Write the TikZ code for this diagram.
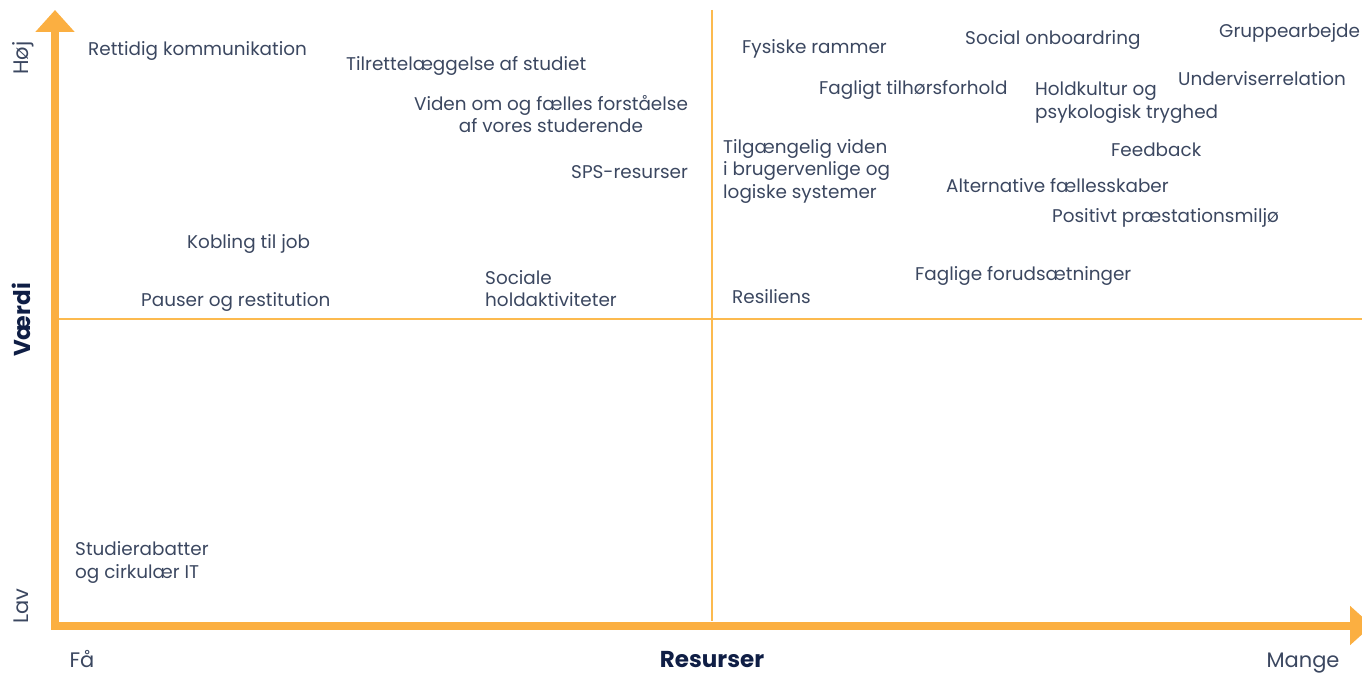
\documentclass[tikz,border=0pt]{standalone}
\usepackage{fontspec}
\setmainfont{Poppins}
\usetikzlibrary{arrows.meta,positioning}
\definecolor{txtgray}{HTML}{3B4760}
\definecolor{navy}{HTML}{0F1E45}
\definecolor{axisorange}{HTML}{FBAF41}
\definecolor{gridorange}{HTML}{FCBA4F}

\begin{document}
\begin{tikzpicture}
   [x=1pt,y=-1pt,
   every node/.style={inner sep=0pt,text=txtgray,
     font=\fontsize{18.4}{22.5}\selectfont},
   item/.style={anchor=base west},
   block/.style={anchor=west,align=left},
   axisname/.style={anchor=base,text=navy,font=\fontsize{23}{26}\selectfont\bfseries},
   axisend/.style={anchor=base,font=\fontsize{21}{24}\selectfont},
   axis/.style={line width=8pt,draw=axisorange,line join=miter,
     {Triangle[width=38pt,length=22pt]}-{Triangle[width=38pt,length=22pt]}},
   midline/.style={line width=1.2pt,draw=gridorange}]
   \useasboundingbox (0,0) rectangle (1362,676);
   % axes and quadrant lines
   \coordinate (ytop) at (55,10);
   \coordinate (origin) at (55,625.5);
   \coordinate (xend) at (1372,625.5);
   \coordinate (midtop) at (712,10);
   \coordinate (midbot) at (712,621);
   \coordinate (midleft) at (59,319);
   \coordinate (midright) at (1362,319);
   \draw[midline] (midtop) -- (midbot);
   \draw[midline] (midleft) -- (midright);
   \draw[axis] (ytop) -- (origin) -- (xend);
   % axis labels
   \node[axisname,rotate=90] (vaerdi) at (30,320) {Værdi};
   \node[axisend,rotate=90] (hoej) at (28,58) {Høj};
   \node[axisend,rotate=90] (lav) at (28,606) {Lav};
   \node[axisname] (resurser) at (712,667) {Resurser};
   \node[axisend] (faa) at (82,667) {Få};
   \node[axisend] (mange) at (1303,667) {Mange};
   % high value, few resources
   \node[item] (komm) at (88,56) {Rettidig kommunikation};
   \node[item] (tilret) at (346,71) {Tilrettelæggelse af studiet};
   \node[align=center] (viden) at (551,114) {Viden om og fælles forståelse\\af vores studerende};
   \node[item] (sps) at (571,179) {SPS-resurser};
   \node[item] (job) at (187,249) {Kobling til job};
   \node[item] (pauser) at (141,306) {Pauser og restitution};
   \node[block] (holdakt) at (485,288.5) {Sociale\\holdaktiviteter};
   % high value, many resources
   \node[item] (fysisk) at (742,54) {Fysiske rammer};
   \node[item] (onboard) at (965,45) {Social onboardring};
   \node[item] (gruppe) at (1219,38) {Gruppearbejde};
   \node[item] (fagtil) at (819,95) {Fagligt tilhørsforhold};
   \node[item] (undrel) at (1178,86) {Underviserrelation};
   \node[block] (holdkult) at (1035,102.5) {Holdkultur og\\psykologisk tryghed};
   \node[block] (system) at (723,171) {Tilgængelig viden\\i brugervenlige og\\logiske systemer};
   \node[item] (feedback) at (1111,157) {Feedback};
   \node[item] (altfael) at (946,193) {Alternative fællesskaber};
   \node[item] (praest) at (1052,223) {Positivt præstationsmiljø};
   \node[item] (fagfor) at (915,280) {Faglige forudsætninger};
   \node[item] (resil) at (732,303) {Resiliens};
   % low value, few resources
   \node[block] (rabat) at (75,562.5) {Studierabatter\\og cirkulær IT};
\end{tikzpicture}
\end{document}
